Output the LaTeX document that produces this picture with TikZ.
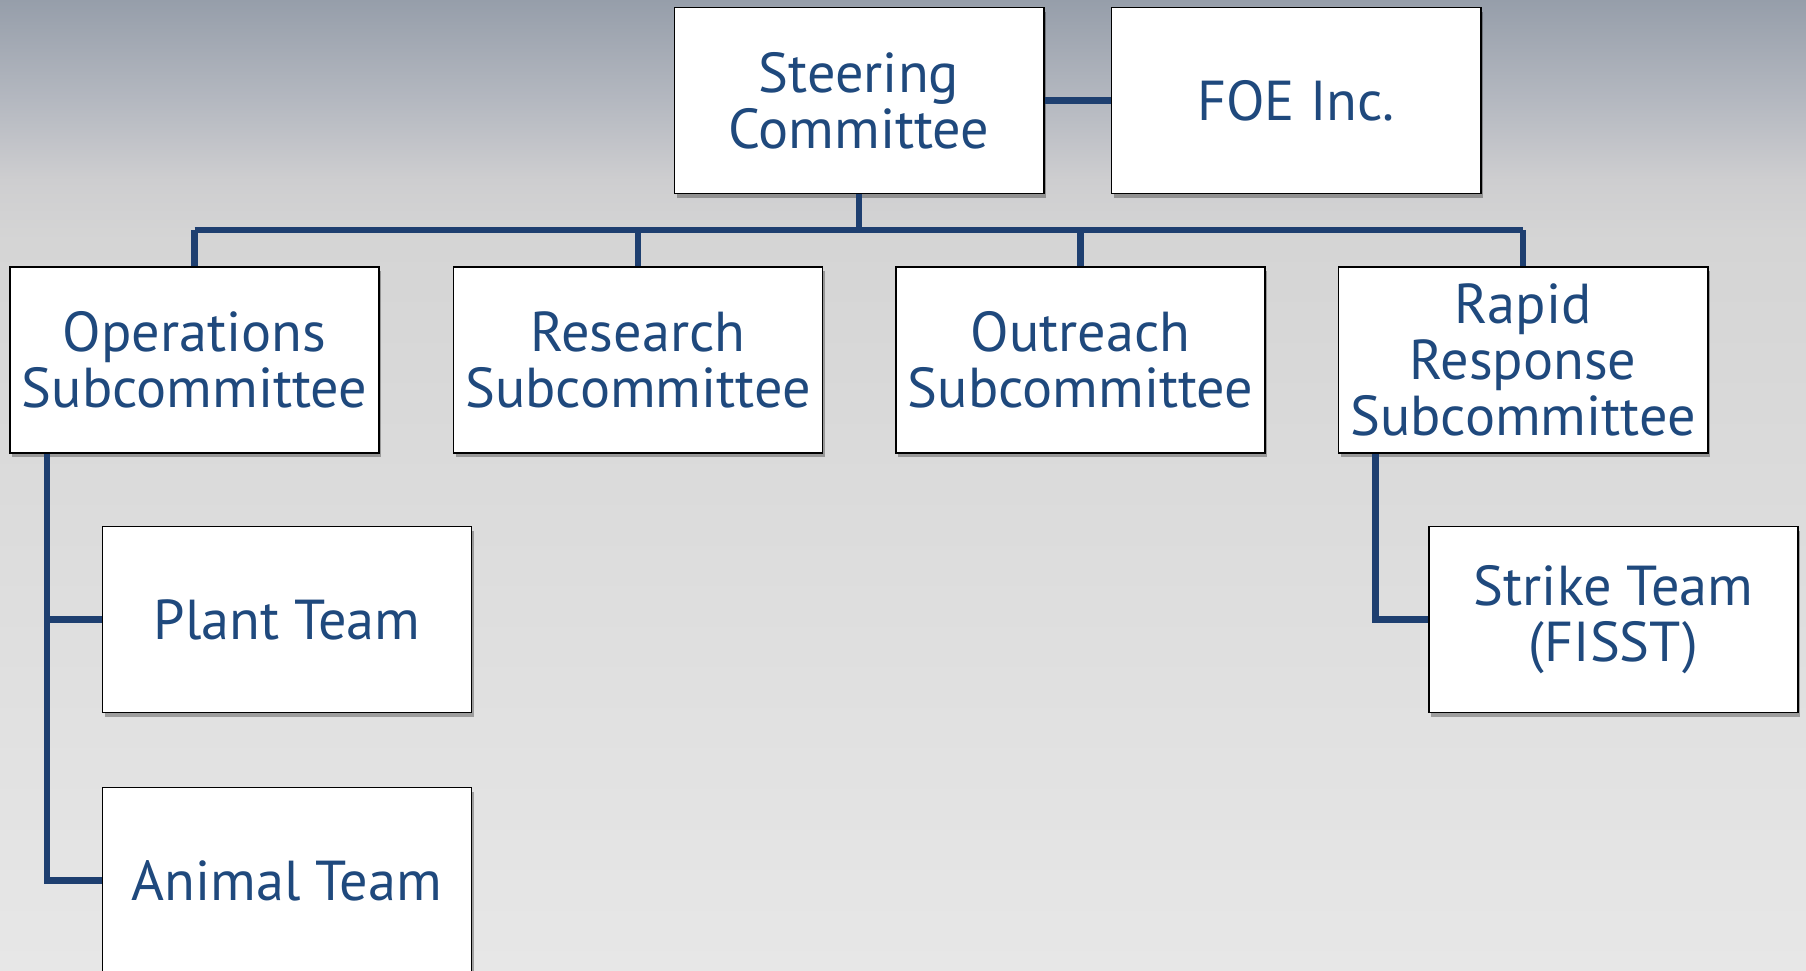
\documentclass[tikz,border=0pt]{standalone}
\usepackage{fontspec}
\setmainfont{PT Sans}
\usetikzlibrary{shadows}
\definecolor{txtblue}{RGB}{31,73,125}
\definecolor{lineblue}{RGB}{30,63,112}
\definecolor{bgA}{RGB}{150,158,170}
\definecolor{bgB}{RGB}{180,184,192}
\definecolor{bgC}{RGB}{206,206,208}
\definecolor{bgD}{RGB}{213,213,213}
\definecolor{bgE}{RGB}{231,231,231}
\pgfdeclareverticalshading{bgshade}{100bp}{color(0bp)=(bgE); color(25bp)=(bgE); color(62.6bp)=(bgD); color(65.7bp)=(bgC); color(69.85bp)=(bgB); color(75bp)=(bgA); color(100bp)=(bgA)}
\tikzset{
  orgbox/.style={draw=black, line width=0.5pt, fill=white, text=txtblue,
    minimum width=3.69cm, minimum height=1.86cm, inner sep=0pt, align=center,
    font=\fontsize{16}{15.9}\selectfont,
    drop shadow={shadow xshift=0.6pt, shadow yshift=-1.2pt, opacity=0.3, fill=black}},
  link/.style={draw=lineblue, line width=1.75pt}
}
\begin{document}
\begin{tikzpicture}[x=0.01cm, y=-0.01cm]
\useasboundingbox (0,0) rectangle (1806,971);
\clip (0,0) rectangle (1806,971);
\shade[shading=bgshade] (0,0) rectangle (1806,971);

\node[orgbox] (steer) at (859,100.5) {Steering\\Committee};
\node[orgbox] (foe) at (1296,100.5) {FOE Inc.};
\node[orgbox] (ops) at (194.5,360) {Operations\\Subcommittee};
\node[orgbox] (res) at (638,360) {Research\\Subcommittee};
\node[orgbox] (out) at (1080.5,360) {Outreach\\Subcommittee};
\node[orgbox] (rap) at (1523,360) {Rapid\\Response\\Subcommittee};
\node[orgbox] (plant) at (287,619.5) {Plant Team};
\node[orgbox] (strike) at (1613.5,619.5) {Strike Team\\(FISST)};
\node[orgbox] (animal) at (287,880.5) {Animal Team};

\coordinate (bus) at (859,230);
\coordinate (opsline) at ([xshift=0.38cm]ops.south west);
\coordinate (rapline) at ([xshift=0.38cm]rap.south west);

\draw[link] (steer.east) -- (foe.west);
\draw[link] (steer.south) -- (bus);
\draw[link] (ops.north |- bus) -- (rap.north |- bus);
\draw[link] (ops.north |- bus) -- (ops.north);
\draw[link] (res.north |- bus) -- (res.north);
\draw[link] (out.north |- bus) -- (out.north);
\draw[link] (rap.north |- bus) -- (rap.north);
\draw[link] (opsline) |- (plant.west);
\draw[link] (opsline) |- (animal.west);
\draw[link] (rapline) |- (strike.west);
\end{tikzpicture}
\end{document}
